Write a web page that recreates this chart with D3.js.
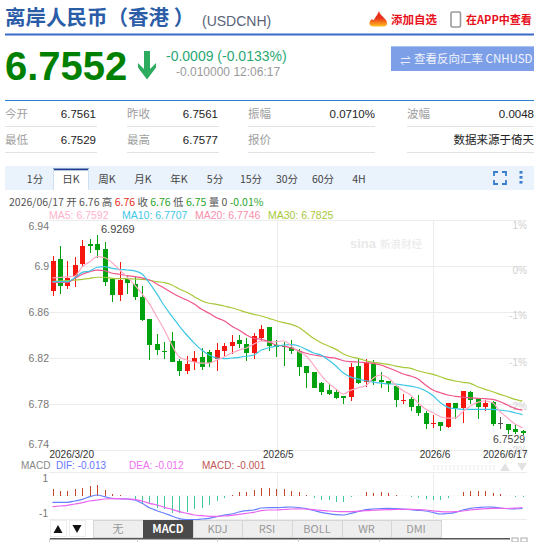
<!DOCTYPE html>
<html><head><meta charset="utf-8">
<script src="https://cdn.jsdelivr.net/npm/d3@7/dist/d3.min.js"></script>
<style>
html,body{margin:0;padding:0;background:#fff;overflow:hidden}
svg{display:block}
text{font-family:"Liberation Sans","Noto Sans CJK SC",sans-serif}
.cjk{font-family:"Noto Sans CJK SC","Liberation Sans",sans-serif}
</style></head><body><div id="c"></div>
<script>
// Daily candles, oldest first
const opens=[6.8785,6.9061,6.8829,6.8916,6.9015,6.9192,6.9192,6.9148,6.8884,6.8751,6.8884,6.8841,6.8733,6.8536,6.8322,6.8261,6.8345,6.8174,6.8087,6.8168,6.8206,6.8252,6.8189,6.8261,6.8304,6.8356,6.8322,6.8246,6.8374,6.8467,6.8310,6.8304,6.8293,6.8258,6.8130,6.8078,6.7980,6.7921,6.7901,6.7869,6.7861,6.8130,6.7994,6.8148,6.8008,6.7997,6.7956,6.7832,6.7840,6.7782,6.7725,6.7623,6.7643,6.7602,6.7806,6.7765,6.7904,6.7846,6.7771,6.7817,6.7634,6.7628,6.7582,6.7561];
const closes=[6.9044,6.8829,6.8896,6.9009,6.9174,6.9172,6.9139,6.8861,6.8751,6.8881,6.8850,6.8731,6.8530,6.8316,6.8269,6.8256,6.8165,6.8087,6.8150,6.8197,6.8122,6.8154,6.8269,6.8307,6.8339,6.8322,6.8243,6.8391,6.8452,6.8304,6.8293,6.8298,6.8258,6.8124,6.8072,6.7941,6.7904,6.7887,6.7852,6.7854,6.8124,6.7985,6.8154,6.8002,6.7991,6.7974,6.7834,6.7837,6.7776,6.7719,6.7626,6.7634,6.7608,6.7806,6.7765,6.7910,6.7834,6.7771,6.7811,6.7628,6.7634,6.7576,6.7559,6.7552];
const highs=[6.9087,6.9174,6.9044,6.9081,6.9226,6.9232,6.9269,6.9206,6.8887,6.9032,6.8913,6.8907,6.8826,6.8539,6.8409,6.8339,6.8429,6.8189,6.8217,6.8261,6.8287,6.8269,6.8328,6.8328,6.8400,6.8397,6.8376,6.8420,6.8484,6.8470,6.8356,6.8342,6.8356,6.8278,6.8130,6.8078,6.7994,6.7974,6.7919,6.7869,6.8159,6.8197,6.8189,6.8182,6.8075,6.7997,6.7956,6.7887,6.7863,6.7875,6.7736,6.7701,6.7643,6.7811,6.7811,6.7915,6.7913,6.7846,6.7834,6.7823,6.7684,6.7628,6.7628,6.7577];
const lows=[6.8739,6.8757,6.8803,6.8818,6.8994,6.9116,6.9072,6.8829,6.8690,6.8696,6.8757,6.8704,6.8524,6.8182,6.8226,6.8191,6.8162,6.8043,6.8061,6.8095,6.8095,6.8124,6.8089,6.8217,6.8235,6.8287,6.8171,6.8194,6.8345,6.8263,6.8211,6.8130,6.8235,6.8043,6.7941,6.7939,6.7878,6.7878,6.7840,6.7800,6.7826,6.7974,6.7945,6.7962,6.7939,6.7907,6.7776,6.7800,6.7736,6.7695,6.7582,6.7591,6.7562,6.7588,6.7669,6.7637,6.7797,6.7669,6.7736,6.7608,6.7585,6.7541,6.7535,6.7529];

// Moving averages
const ma5=[6.8896,6.8900,6.8905,6.8913,6.8994,6.9038,6.9081,6.9072,6.9029,6.8965,6.8905,6.8835,6.8757,6.8670,6.8557,6.8443,6.8313,6.8208,6.8182,6.8165,6.8156,6.8156,6.8182,6.8208,6.8243,6.8269,6.8287,6.8322,6.8348,6.8339,6.8342,6.8350,6.8304,6.8255,6.8217,6.8139,6.8052,6.7982,6.7930,6.7887,6.7921,6.7941,6.7959,6.8026,6.8052,6.8026,6.7965,6.7915,6.7878,6.7811,6.7756,6.7724,6.7689,6.7678,6.7680,6.7733,6.7782,6.7814,6.7826,6.7811,6.7733,6.7678,6.7626,6.7592];
const ma10=[6.8864,6.8864,6.8864,6.8898,6.8945,6.8957,6.8989,6.8994,6.8980,6.8971,6.8965,6.8957,6.8931,6.8852,6.8757,6.8652,6.8565,6.8478,6.8400,6.8330,6.8269,6.8226,6.8200,6.8194,6.8200,6.8206,6.8215,6.8226,6.8269,6.8289,6.8304,6.8313,6.8316,6.8304,6.8275,6.8243,6.8226,6.8182,6.8130,6.8069,6.8034,6.8017,6.8002,6.7991,6.7982,6.7974,6.7974,6.7965,6.7956,6.7941,6.7915,6.7872,6.7811,6.7771,6.7759,6.7753,6.7753,6.7753,6.7753,6.7753,6.7747,6.7739,6.7724,6.7707];
const ma20=[6.8858,6.8858,6.8858,6.8893,6.8928,6.8951,6.8965,6.8959,6.8937,6.8928,6.8916,6.8907,6.8896,6.8878,6.8844,6.8806,6.8768,6.8733,6.8704,6.8670,6.8623,6.8589,6.8550,6.8524,6.8478,6.8443,6.8400,6.8371,6.8362,6.8342,6.8313,6.8304,6.8287,6.8263,6.8241,6.8226,6.8217,6.8206,6.8197,6.8176,6.8168,6.8165,6.8159,6.8154,6.8139,6.8115,6.8089,6.8061,6.8043,6.8017,6.7965,6.7921,6.7898,6.7878,6.7867,6.7860,6.7854,6.7849,6.7846,6.7840,6.7820,6.7791,6.7762,6.7746];
const ma30=[6.8865,6.8870,6.8872,6.8878,6.8884,6.8893,6.8902,6.8902,6.8893,6.8890,6.8890,6.8887,6.8884,6.8876,6.8864,6.8855,6.8835,6.8800,6.8771,6.8733,6.8698,6.8676,6.8667,6.8652,6.8637,6.8617,6.8597,6.8580,6.8565,6.8545,6.8524,6.8507,6.8493,6.8467,6.8420,6.8371,6.8333,6.8304,6.8275,6.8235,6.8211,6.8197,6.8176,6.8162,6.8154,6.8145,6.8130,6.8119,6.8110,6.8089,6.8072,6.8058,6.8037,6.8014,6.8000,6.7988,6.7980,6.7950,6.7927,6.7907,6.7884,6.7863,6.7840,6.7825];

// MACD panel series
const dif=[-0.0068,-0.0068,-0.0068,-0.0055,-0.0038,-0.0012,0.0005,-0.0012,-0.0028,-0.0032,-0.0035,-0.0045,-0.0078,-0.0122,-0.0152,-0.0178,-0.0205,-0.0232,-0.0242,-0.0242,-0.0235,-0.0228,-0.0212,-0.0195,-0.0185,-0.0165,-0.0152,-0.0145,-0.0125,-0.0122,-0.0122,-0.0118,-0.0115,-0.012,-0.0132,-0.015,-0.0168,-0.0182,-0.0192,-0.0195,-0.0178,-0.016,-0.0142,-0.0135,-0.013,-0.0128,-0.0132,-0.0136,-0.0141,-0.0148,-0.0155,-0.017,-0.0185,-0.018,-0.0168,-0.0145,-0.0128,-0.0121,-0.0115,-0.0117,-0.0125,-0.0131,-0.0133,-0.013];
const dea=[-0.0112,-0.0105,-0.0098,-0.0085,-0.0072,-0.0055,-0.0045,-0.0035,-0.0032,-0.0032,-0.0035,-0.0038,-0.0055,-0.0078,-0.0095,-0.0118,-0.0138,-0.0162,-0.0178,-0.0195,-0.0202,-0.0208,-0.0208,-0.0205,-0.0198,-0.0188,-0.0178,-0.0168,-0.0152,-0.0145,-0.0145,-0.014,-0.0135,-0.0133,-0.0135,-0.0142,-0.0148,-0.0155,-0.016,-0.0162,-0.0162,-0.0157,-0.0152,-0.0147,-0.0144,-0.0142,-0.014,-0.0138,-0.0138,-0.0141,-0.0145,-0.0153,-0.0162,-0.0164,-0.0162,-0.0155,-0.0145,-0.0138,-0.0132,-0.0129,-0.0128,-0.013,-0.0127,-0.012];
const macdBars=[0.0067,0.0047,0.0047,0.0063,0.008,0.01,0.0103,0.0057,0.0017,0.0003,-0.0003,-0.0037,-0.0077,-0.007,-0.012,-0.013,-0.017,-0.0177,-0.016,-0.013,-0.0127,-0.009,-0.005,-0.002,0.0005,0.0033,0.0037,0.0053,0.008,0.0073,0.0067,0.0063,0.005,0.004,0.0007,-0.0027,-0.004,-0.0043,-0.006,-0.006,-0.0015,0,0.0033,0.003,0.0033,0.003,0.0003,0,-0.001,-0.002,-0.0035,-0.0043,-0.0045,-0.002,0,0.0037,0.0043,0.0043,0.0047,0.0027,0.0013,0,-0.001,-0.001];

// Axis labels
const priceTicks=[6.94,6.9,6.86,6.82,6.78,6.74];
const pctLabels=["1%","0%","-1%","-1%","-2%","-2%"];
const dateTickIndex=[0,30,51,63];
const dateTickLabels=["2026/3/20","2026/5","2026/6","2026/6/17"];
const periodTabs=["1分","日K","周K","月K","年K","5分","15分","30分","60分","4H"];
const indicatorTabs=["无","MACD","KDJ","RSI","BOLL","WR","DMI"];
const quoteRows=[
 [["今开","6.7561"],["昨收","6.7561"],["振幅","0.0710%"],["波幅","0.0048"]],
 [["最低","6.7529"],["最高","6.7577"],["报价",""],["","数据来源于倚天"]]
];

const RED="#f5170e",GREEN="#00a30f";
const svg=d3.select("#c").append("svg").attr("width",550).attr("height",542);
function label(x,y,t,o={}){
  return svg.append("text").attr("x",x).attr("y",y).text(t)
   .attr("font-size",o.size||11).attr("fill",o.fill||"#444")
   .attr("text-anchor",o.anchor||"start").attr("font-weight",o.weight||"normal");
}
function box(x,y,w,h,fill){return svg.append("rect").attr("x",x).attr("y",y).attr("width",w).attr("height",h).attr("fill",fill);}

// Header
label(5,25,"离岸人民币（香港 ）",{size:20.5,weight:"bold",fill:"#2a5ca8"}).attr("class","cjk");
label(202,26,"(USDCNH)",{size:14,fill:"#5a6478"});
box(5,33.5,529,2,"#3b6bc9");
const defs=svg.append("defs");
const fg=defs.append("linearGradient").attr("id","fire").attr("x1",0).attr("y1",0).attr("x2",0).attr("y2",1);
fg.append("stop").attr("offset","0.45").attr("stop-color","#e8301a");
fg.append("stop").attr("offset","1").attr("stop-color","#ffc21e");
svg.append("path").attr("d","M379 11 C380 15 382 15 384 18 C388 21 388 26 384 26.5 L373 26.5 C368 26 369 21 372 19 C373 21 374 20 375 18 C376 16 378 14 379 11Z").attr("fill","url(#fire)");
label(391,24,"添加自选",{size:11.5,weight:"bold",fill:"#e8101a"}).attr("class","cjk");
svg.append("rect").attr("x",451).attr("y",12).attr("width",9.5).attr("height",15).attr("rx",1.5).attr("fill","#fff").attr("stroke","#999").attr("stroke-width",1.6);
label(466,24,"在APP中查看",{size:11,weight:"bold",fill:"#e8101a"}).attr("class","cjk");

label(5,80,"6.7552",{size:40,weight:"bold",fill:"#008000"});
svg.append("path").attr("d","M144 51 H150 V69 L156 63 L156 67.5 L147 79.5 L138 67.5 L138 63 L144 69Z").attr("fill","#2dab5e");
label(166,61,"-0.0009 (-0.0133%)",{size:14,fill:"#2aa873"});
label(176,76,"-0.010000 12:06:17",{size:12,fill:"#9a9a9a"});

box(391,46,143,25,"#7d9fe8");
box(391,46,143,1,"#a9c0f0");
svg.append("path").attr("d","M401 58.5 H410 L407.5 56 M410 62.5 H401 L403.5 65").attr("fill","none").attr("stroke","#e8eefc").attr("stroke-width",1);
label(414,63,"查看反向汇率 CNHUSD",{size:11.5,fill:"#f2f5fd"}).attr("class","cjk");

// Quote table
box(5,100,529,1,"#2a7fd0");
const labelX=[5,127,248,407],valueX=[96,218,375,534],lineEnd=[97,219,375,534];
quoteRows.forEach((row,r)=>{
  const ty=118+r*26;
  row.forEach((cell,c)=>{
    if(cell[0])label(labelX[c],ty,cell[0],{size:11.5,fill:"#a0a0a0"}).attr("class","cjk");
    if(cell[1])label(valueX[c],ty,cell[1],{size:11.5,fill:"#222",anchor:"end"}).attr("class",/[\u4e00-\u9fff]/.test(cell[1])?"cjk":null);
    box(labelX[c],126+r*26,lineEnd[c]-labelX[c],1,"#e2e2e2");
  });
});

// Period tabs
box(5,166,529,24,"#eaf2fc");
box(53,169,36,21,"#fff");
box(53,168.5,36,1.8,"#1d3f8f");
box(53,169,1,21,"#cfdff2");box(88,169,1,21,"#cfdff2");
periodTabs.forEach((t,i)=>label(35+i*36,183,t,{size:10.5,anchor:"middle",fill:"#444"}).attr("class","cjk"));
svg.append("path").attr("d","M494 176 V172 H498 M502 172 H506 V176 M506 180 V184 H502 M498 184 H494 V180").attr("fill","none").attr("stroke","#3b7ccc").attr("stroke-width",1.8);
[172,177,182].forEach(y=>box(519.5,y-1,3,2.6,"#3b7ccc"));

// Readout lines above the plot
const info=svg.append("text").attr("x",9).attr("y",206).attr("font-size",10.5).attr("class","cjk");
[["2026/06/17 开 6.76 高 ","#555"],["6.76","#e8301a"],[" 收 ","#555"],["6.76","#2aa52a"],[" 低 ","#555"],["6.75","#2aa52a"],[" 量 0 ","#555"],["-0.01%","#2aa52a"]]
 .forEach(d=>info.append("tspan").attr("fill",d[1]).text(d[0]));
[[49,"MA5: 6.7592","#ffb3cc"],[122,"MA10: 6.7707","#3fc6e5"],[195,"MA20: 6.7746","#f78fab"],[268,"MA30: 6.7825","#a8c83a"]]
 .forEach(d=>label(d[0],219,d[1],{size:10.5,fill:d[2]}));

// Scales
const x=d3.scaleLinear().domain([0,63]).range([52.5,522.5]);
const y=d3.scaleLinear().domain([6.74,6.94]).range([450,220]);
const my=d3.scaleLinear().domain([-0.0235,0.0235]).range([519,472]);

// Plot grid and axes
const grid=svg.append("g").attr("stroke","#ececec").attr("stroke-width",1).attr("shape-rendering","crispEdges");
priceTicks.forEach(t=>grid.append("line").attr("x1",49).attr("x2",527).attr("y1",y(t)).attr("y2",y(t)));
dateTickIndex.slice(1,3).forEach(i=>{
  grid.append("line").attr("x1",x(i)+1).attr("x2",x(i)+1).attr("y1",220).attr("y2",450);
  grid.append("line").attr("x1",x(i)+1).attr("x2",x(i)+1).attr("y1",472).attr("y2",519);
});
const yAxis=svg.append("g").attr("transform","translate(49,0)")
  .call(d3.axisLeft(y).tickValues(priceTicks).tickSize(0).tickPadding(0).tickFormat(d=>String(d)));
yAxis.select(".domain").remove();
yAxis.selectAll("text").attr("font-size",10.5).attr("fill","#777").style("font-family","inherit")
  .attr("dy",d=>d===6.94?"0.9em":d===6.74?"-0.25em":"0.32em");

svg.append("text").attr("x",350).attr("y",248).attr("font-size",13).attr("font-weight","bold").attr("fill","#e9e9e9").text("sina");
svg.append("text").attr("x",380).attr("y",248).attr("font-size",10.5).attr("fill","#e9e9e9").attr("class","cjk").text("新浪财经");

// Percent scale on the right
pctLabels.forEach((t,i)=>label(527,[229,274,319,366,410,454][i],t,{size:10,fill:"#d0d0d0",anchor:"end"}));

// Candles
const cg=svg.append("g").attr("shape-rendering","crispEdges");
const colorOf=i=>closes[i]>opens[i]?RED:closes[i]<opens[i]?GREEN:"#555";
cg.selectAll(".wick").data(d3.range(opens.length)).join("line").attr("class","wick")
  .attr("x1",i=>Math.round(x(i))+.5).attr("x2",i=>Math.round(x(i))+.5)
  .attr("y1",i=>y(highs[i])).attr("y2",i=>y(lows[i])).attr("stroke",colorOf);
cg.selectAll(".body").data(d3.range(opens.length)).join("rect").attr("class","body")
  .attr("x",i=>Math.round(x(i))-2).attr("width",5)
  .attr("y",i=>y(Math.max(opens[i],closes[i])))
  .attr("height",i=>Math.max(1,Math.abs(y(opens[i])-y(closes[i]))))
  .attr("fill",colorOf);

// Moving-average lines
const maLine=d3.line().x((d,i)=>x(i)).y(d=>y(d)).curve(d3.curveMonotoneX);
[[ma30,"#a8c83a"],[ma20,"#f0558a"],[ma10,"#3cc6e6"],[ma5,"#ffa9c4"]].forEach(([s,c])=>
  svg.append("path").attr("d",maLine(s)).attr("fill","none").attr("stroke",c).attr("stroke-width",1.2));

label(101,233,"6.9269",{size:11,fill:"#444"});
label(493,442.5,"6.7529",{size:10.5,fill:"#444"});

// Date labels
const xAxis=svg.append("g").attr("transform","translate(0,448)")
  .call(d3.axisBottom(x).tickValues(dateTickIndex).tickSize(0).tickPadding(0).tickFormat((d,i)=>dateTickLabels[i]));
xAxis.select(".domain").remove();
xAxis.selectAll("text").attr("font-size",10).attr("fill","#333").style("font-family","inherit")
  .attr("text-anchor",(d,i)=>i===0?"start":i===3?"end":"middle")
  .attr("x",(d,i)=>i===0?-3.5:i===3?4.5:1.5).attr("dy","0.95em");

// MACD panel
label(21,469,"MACD",{size:10,fill:"#888"});
label(56,469,"DIF: -0.013",{size:10,fill:"#6677ff"});
label(129,469,"DEA: -0.012",{size:10,fill:"#f070f0"});
label(202,469,"MACD: -0.001",{size:10,fill:"#c05555"});
const panel=svg.append("g").attr("stroke","#ececec").attr("shape-rendering","crispEdges");
[472,519].forEach(v=>panel.append("line").attr("x1",49).attr("x2",527).attr("y1",v).attr("y2",v));
panel.append("line").attr("x1",49).attr("x2",527).attr("y1",my(0)).attr("y2",my(0)).attr("stroke-dasharray","1,3");
label(48,481.5,"1",{size:10,fill:"#777",anchor:"end"});
label(48,517,"-1",{size:10,fill:"#777",anchor:"end"});
[466,469].forEach(v=>svg.append("line").attr("x1",433).attr("x2",497).attr("y1",v).attr("y2",v).attr("stroke","#e4e4e4").attr("stroke-dasharray","2,2"));
svg.append("path").attr("d","M505 463 L510 471 L500 471Z M517 463 L527 463 L522 471Z").attr("fill","#e2e2e2");
svg.append("g").attr("shape-rendering","crispEdges").selectAll("line").data(macdBars).join("line")
  .attr("x1",(d,i)=>Math.round(x(i))+.5).attr("x2",(d,i)=>Math.round(x(i))+.5)
  .attr("y1",my(0)).attr("y2",d=>my(d))
  .attr("stroke",d=>d>=0?"#c4452a":"#3fc8a0");
const mLine=d3.line().x((d,i)=>x(i)).y(d=>my(d)).curve(d3.curveMonotoneX);
svg.append("path").attr("d",mLine(dif)).attr("fill","none").attr("stroke","#6680ff").attr("stroke-width",1.2);
svg.append("path").attr("d",mLine(dea)).attr("fill","none").attr("stroke","#ea66f0").attr("stroke-width",1.2);

// Indicator switcher
[[50,"M58 525 L62.5 533 L53.5 533Z"],[69,"M72.5 525 L81.5 525 L77 533Z"]].forEach(([bx,p])=>{
  svg.append("rect").attr("x",bx+.5).attr("y",520.5).attr("width",16).attr("height",16).attr("fill","#fff").attr("stroke","#eee");
  svg.append("path").attr("d",p).attr("fill","#111");
});
const tabEdges=[93,143,193,242,292,342,391,441];
indicatorTabs.forEach((t,i)=>{
  const on=t==="MACD",x0=tabEdges[i],w=tabEdges[i+1]-x0;
  svg.append("rect").attr("x",x0+.5).attr("y",520.5).attr("width",w).attr("height",17)
    .attr("fill",on?"#4a4a4a":"#eeeeee").attr("stroke",on?"#4a4a4a":"#d6d6d6");
  label(x0+w/2,533,t,{size:11,anchor:"middle",fill:on?"#fff":"#999",weight:on?"bold":"normal"}).attr("class","cjk");
});
// Range slider strip along the bottom edge
box(50,538,460,1.5,"#555");
[49,137,217,298,379].forEach(v=>box(v,539,1,3,"#ccc"));
box(512,538,6,4,"#fff").attr("stroke","#aaa");box(521,538,6,4,"#fff").attr("stroke","#aaa");
</script></body></html>
